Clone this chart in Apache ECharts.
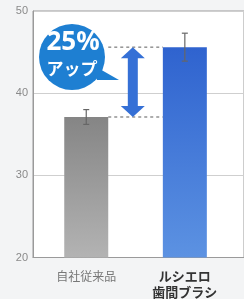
<!DOCTYPE html>
<html>
<head>
    <meta charset="utf-8">
    <style>
        html, body { margin: 0; padding: 0; background: #f3f4f5; }
        #chart { width: 244px; height: 299px; }
    </style>
</head>
<body>
<div id="chart"></div>
<script src="https://cdn.jsdelivr.net/npm/echarts@6/dist/echarts.min.js"></script>
<script>
// 製品名
var products = ['自社従来品', 'ルシエロ\n歯間ブラシ'];
// 平均値
var means = [37.1, 45.6];
// 誤差（±）
var errs = [0.9, 1.7];
// y軸目盛
var yTicks = [20, 30, 40, 50];
// 吹き出し
var calloutText = ['25%', 'アップ'];

var xs = [0, 1];
var chart = echarts.init(document.getElementById('chart'));

var barColors = [
    new echarts.graphic.LinearGradient(0, 0, 0, 1, [
        { offset: 0, color: '#858585' }, { offset: 1, color: '#b3b3b3' }]),
    new echarts.graphic.LinearGradient(0, 0, 0, 1, [
        { offset: 0, color: '#2f63cf' }, { offset: 1, color: '#5c92e2' }])
];

var option = {
    backgroundColor: '#f3f4f5',
    animation: false,
    grid: {
        left: 33, right: -8, top: 11, bottom: 37,
        show: true, backgroundColor: '#fff', borderColor: '#9a9a9a', borderWidth: 1
    },
    xAxis: {
        type: 'value',
        min: -0.54, max: 1.6,
        axisLine: { show: true, onZero: false, lineStyle: { color: '#9a9a9a' } },
        axisTick: { show: false },
        splitLine: { show: false },
        axisLabel: {
            customValues: xs,
            margin: 11,
            formatter: function (v) {
                var i = Math.round(v);
                return i === 0 ? '{a|' + products[0] + '}' : '{b|' + products[1].replace('\n', '}\n{b|') + '}';
            },
            rich: {
                a: { color: '#777', fontSize: 12, fontFamily: 'Noto Sans CJK JP', lineHeight: 16 },
                b: { color: '#333', fontSize: 13, fontWeight: 'bold', fontFamily: 'Noto Sans CJK JP', lineHeight: 16 }
            }
        }
    },
    yAxis: {
        type: 'value',
        min: yTicks[0], max: yTicks[yTicks.length - 1], interval: 10,
        axisLine: { show: true, onZero: false, lineStyle: { color: '#9a9a9a' } },
        axisTick: { show: false },
        axisLabel: { color: '#8a8a8a', fontSize: 11, margin: 5 },
        splitLine: { lineStyle: { color: '#cfcfcf' } }
    },
    series: [{
        // 棒
        type: 'custom',
        data: xs.map(function (x, i) { return [x, means[i]]; }),
        renderItem: function (params, api) {
            var top = api.coord([api.value(0), api.value(1)]);
            var base = api.coord([api.value(0), yTicks[0]]);
            var w = 44;
            return {
                type: 'rect',
                shape: { x: top[0] - w / 2, y: top[1], width: w, height: base[1] - top[1] },
                style: { fill: barColors[params.dataIndex] }
            };
        }
    }, {
        // 誤差棒
        type: 'custom',
        z: 3,
        data: xs.map(function (x, i) { return [x, means[i] - errs[i], means[i] + errs[i]]; }),
        renderItem: function (params, api) {
            var lo = api.coord([api.value(0), api.value(1)]);
            var hi = api.coord([api.value(0), api.value(2)]);
            var st = { stroke: '#666', lineWidth: 1.2 };
            return {
                type: 'group',
                children: [
                    { type: 'line', shape: { x1: lo[0], y1: lo[1], x2: hi[0], y2: hi[1] }, style: st },
                    { type: 'line', shape: { x1: hi[0] - 3, y1: hi[1], x2: hi[0] + 3, y2: hi[1] }, style: st },
                    { type: 'line', shape: { x1: lo[0] - 3, y1: lo[1], x2: lo[0] + 3, y2: lo[1] }, style: st }
                ]
            };
        }
    }, {
        // 点線と両矢印
        type: 'custom',
        z: 4,
        data: [[0, means[0], 1, means[1]]],
        renderItem: function (params, api) {
            var a = api.coord([api.value(0), api.value(1)]);
            var b = api.coord([api.value(2), api.value(3)]);
            var x1 = a[0] + 22, x2 = b[0] - 22;
            var mx = x1 + (x2 - x1) * 0.45;
            var dash = { stroke: '#777', lineWidth: 1.2, lineDash: [3, 3] };
            var hw = 12, sw = 5, hh = 11;
            var t = b[1], u = a[1];
            return {
                type: 'group',
                children: [
                    { type: 'line', shape: { x1: x1, y1: a[1], x2: x2, y2: a[1] }, style: dash },
                    { type: 'line', shape: { x1: x1, y1: b[1], x2: x2, y2: b[1] }, style: dash },
                    {
                        type: 'polygon',
                        shape: {
                            points: [
                                [mx, t], [mx + hw, t + hh], [mx + sw, t + hh], [mx + sw, u - hh],
                                [mx + hw, u - hh], [mx, u], [mx - hw, u - hh], [mx - sw, u - hh],
                                [mx - sw, t + hh], [mx - hw, t + hh]
                            ]
                        },
                        style: { fill: '#3570d6' }
                    }
                ]
            };
        }
    }],
    graphic: [{
        type: 'group',
        left: 39, top: 24,
        children: [
            { type: 'polygon', shape: { points: [[52, 40], [80, 56], [58, 56]] }, style: { fill: '#1e7fd2' } },
            { type: 'circle', shape: { cx: 33, cy: 33, r: 33 }, style: { fill: '#1e7fd2' } },
            {
                type: 'text', x: 34, y: 19,
                style: { text: calloutText[0], fill: '#fff', font: 'bold 26px "Noto Sans", sans-serif', align: 'center', verticalAlign: 'middle' }
            },
            {
                type: 'text', x: 33, y: 45,
                style: { text: calloutText[1], fill: '#fff', font: 'bold 17px "Noto Sans CJK JP"', align: 'center', verticalAlign: 'middle' }
            }
        ]
    }]
};
chart.setOption(option);
</script>
</body>
</html>
